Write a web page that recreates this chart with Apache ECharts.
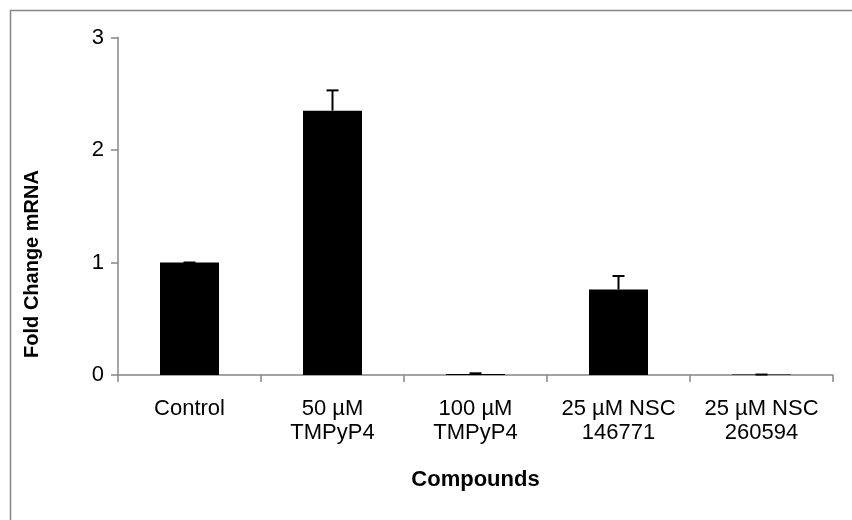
<!DOCTYPE html>
<html><head><meta charset="utf-8">
<script src="https://cdn.jsdelivr.net/npm/echarts@6/dist/echarts.min.js"></script>
<style>html,body{margin:0;padding:0;background:#fff}#c{width:852px;height:520px}</style>
</head><body><div id="c"></div>
<script>
var categories = ["Control", "50 µM\nTMPyP4", "100 µM\nTMPyP4", "25 µM NSC\n146771", "25 µM NSC\n260594"];
var values = [1.0, 2.35, 0.01, 0.76, 0.004];
var errors = [0.0, 0.18, 0.005, 0.12, 0.0];
var yTicks = [0, 1, 2, 3];
var yTitle = 'Fold Change mRNA';
var xTitle = 'Compounds';

var chart = echarts.init(document.getElementById('c'), null, {renderer: 'canvas'});
var errData = values.map(function (v, i) { return [i, v, v + errors[i]]; });
chart.setOption({
  animation: false,
  backgroundColor: '#fff',
  textStyle: {fontFamily: 'Liberation Sans, Arial, sans-serif'},
  graphic: [{
    type: 'rect', left: 8, top: 8, shape: {x: 0, y: 0, width: 860, height: 530},
    style: {fill: 'none', stroke: '#878787', lineWidth: 1.5}, z: 0, silent: true
  }, {
    type: 'text', x: 32, y: 264, rotation: Math.PI / 2,
    style: {text: yTitle, fill: '#000', font: 'bold 20px "Liberation Sans", Arial', align: 'center', verticalAlign: 'middle'},
    silent: true
  }],
  grid: {left: 118, right: 19, top: 37.5, bottom: 145, containLabel: false},
  xAxis: {
    type: 'category', data: categories,
    name: xTitle, nameLocation: 'middle', nameGap: 94,
    nameTextStyle: {fontSize: 22, fontWeight: 'bold', color: '#000', fontFamily: 'Liberation Sans, Arial'},
    axisLine: {lineStyle: {color: '#878787', width: 1.5}},
    axisTick: {show: true, length: 7, lineStyle: {color: '#878787', width: 1.5}},
    axisLabel: {color: '#000', fontSize: 22, lineHeight: 24, margin: 22, interval: 0, fontFamily: 'Liberation Sans, Arial'}
  },
  yAxis: {
    type: 'value', min: yTicks[0], max: yTicks[yTicks.length - 1], interval: 1,
    axisLine: {show: true, lineStyle: {color: '#878787', width: 1.5}},
    axisTick: {show: true, length: 7, lineStyle: {color: '#878787', width: 1.5}},
    splitLine: {show: false},
    axisLabel: {color: '#000', fontSize: 22, margin: 14, fontFamily: 'Liberation Sans, Arial'}
  },
  series: [{
    type: 'bar', data: values, barWidth: 59,
    itemStyle: {color: '#000'}, z: 2
  }, {
    type: 'custom', data: errData, z: 3,
    renderItem: function (params, api) {
      var x = api.value(0);
      var lo = api.coord([x, api.value(1)]);
      var hi = api.coord([x, api.value(2)]);
      var hw = 6;
      return {
        type: 'group',
        children: [
          {type: 'line', shape: {x1: lo[0], y1: lo[1], x2: hi[0], y2: hi[1]}, style: {stroke: '#000', lineWidth: 2}},
          {type: 'line', shape: {x1: hi[0] - hw, y1: hi[1], x2: hi[0] + hw, y2: hi[1]}, style: {stroke: '#000', lineWidth: 2}}
        ]
      };
    }
  }]
});
</script></body></html>
